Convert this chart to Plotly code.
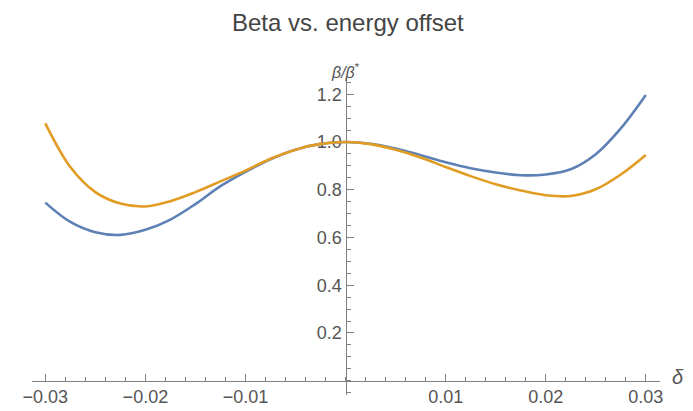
import plotly.graph_objects as go

# Energy offset samples and the two beta-ratio curves
delta = [-0.030, -0.0275, -0.025, -0.0225, -0.020, -0.0175, -0.015, -0.0125, -0.010,
         -0.0075, -0.005, -0.0025, 0.0, 0.0025, 0.005, 0.0075, 0.010, 0.0125, 0.015,
         0.0175, 0.020, 0.0225, 0.025, 0.0275, 0.030]
beta_blue = [0.746, 0.665, 0.622, 0.611, 0.632, 0.675, 0.740, 0.815, 0.875,
             0.928, 0.968, 0.992, 1.000, 0.993, 0.973, 0.945, 0.915, 0.890, 0.872,
             0.861, 0.864, 0.886, 0.949, 1.057, 1.197]
beta_orange = [1.078, 0.895, 0.790, 0.742, 0.730, 0.752, 0.790, 0.835, 0.880,
               0.930, 0.968, 0.992, 1.000, 0.991, 0.968, 0.935, 0.895, 0.857, 0.823,
               0.797, 0.777, 0.774, 0.802, 0.864, 0.946]

x_ticks = [-0.03, -0.02, -0.01, 0.01, 0.02, 0.03]
x_labels = ["\u22120.03", "\u22120.02", "\u22120.01", "0.01", "0.02", "0.03"]
y_ticks = [0.2, 0.4, 0.6, 0.8, 1.0, 1.2]
y_labels = ["0.2", "0.4", "0.6", "0.8", "1.0", "1.2"]

W, H = 693, 411
FONT = "Liberation Sans, Arial, Helvetica, sans-serif"
AXIS_COLOR = "#808080"
LABEL_COLOR = "#555555"

fig = go.Figure()
fig.add_trace(go.Scatter(x=delta, y=beta_blue, mode="lines",
                         line=dict(color="#5E81B5", width=2.6, shape="spline", smoothing=1.0)))
fig.add_trace(go.Scatter(x=delta, y=beta_orange, mode="lines",
                         line=dict(color="#E19C24", width=2.6, shape="spline", smoothing=1.0)))

# axis placement in pixels: delta -> 343 + 10200*delta, value -> 380.7 - 238.7*value
x_left_px, x_right_px, x0_px, x_scale = 23, 663, 343, 10200
y_top_px, y_bot_px, y0_px, y_scale = 78, 395, 380.7, 238.7

x_range = [(x_left_px - x0_px) / x_scale, (x_right_px - x0_px) / x_scale]
y_range = [(y0_px - y_bot_px) / y_scale, (y0_px - y_top_px) / y_scale]

fig.update_layout(
    width=W, height=H, autosize=False,
    margin=dict(l=0, r=0, t=0, b=0),
    paper_bgcolor="white", plot_bgcolor="white",
    showlegend=False,
    font=dict(family=FONT, color=LABEL_COLOR, size=15),
    xaxis=dict(
        domain=[x_left_px / W, x_right_px / W],
        range=x_range, anchor="free", position=(H - y0_px) / H,
        showgrid=False, zeroline=False,
        showline=True, linecolor=AXIS_COLOR, linewidth=1.3,
        tickmode="array", tickvals=x_ticks, ticktext=x_labels,
        ticks="inside", ticklen=7, tickwidth=1.2, tickcolor=AXIS_COLOR,
        minor=dict(tickmode="linear", tick0=0, dtick=0.002, ticks="inside",
                   ticklen=4, tickwidth=1, tickcolor=AXIS_COLOR),
        tickfont=dict(family=FONT, size=18, color=LABEL_COLOR),
        layer="below traces",
    ),
    yaxis=dict(
        domain=[(H - y_bot_px) / H, (H - y_top_px) / H],
        range=y_range, anchor="free", position=x0_px / W,
        showgrid=False, zeroline=False,
        showline=True, linecolor=AXIS_COLOR, linewidth=1.3,
        tickmode="array", tickvals=y_ticks, ticktext=y_labels,
        ticks="inside", ticklen=7, tickwidth=1.2, tickcolor=AXIS_COLOR,
        minor=dict(tickmode="linear", tick0=0, dtick=0.05, ticks="inside",
                   ticklen=4, tickwidth=1, tickcolor=AXIS_COLOR),
        tickfont=dict(family=FONT, size=18, color=LABEL_COLOR),
        layer="below traces",
    ),
    annotations=[
        dict(text="Beta vs. energy offset", xref="paper", yref="paper",
             x=345 / W, y=1 - 22 / H, xanchor="center", yanchor="middle",
             showarrow=False, font=dict(family=FONT, size=24, color="#444444")),
        dict(text="<i>β/β</i><sup>*</sup>", xref="paper", yref="paper",
             x=343 / W, y=1 - 71 / H, xanchor="center", yanchor="middle",
             showarrow=False, font=dict(family=FONT, size=16, color=LABEL_COLOR)),
        dict(text="<i>δ</i>", xref="paper", yref="paper",
             x=682 / W, y=1 - 377 / H, xanchor="center", yanchor="middle",
             showarrow=False, font=dict(family=FONT, size=20, color=LABEL_COLOR)),
    ],
)

fig.write_html("out.html")
